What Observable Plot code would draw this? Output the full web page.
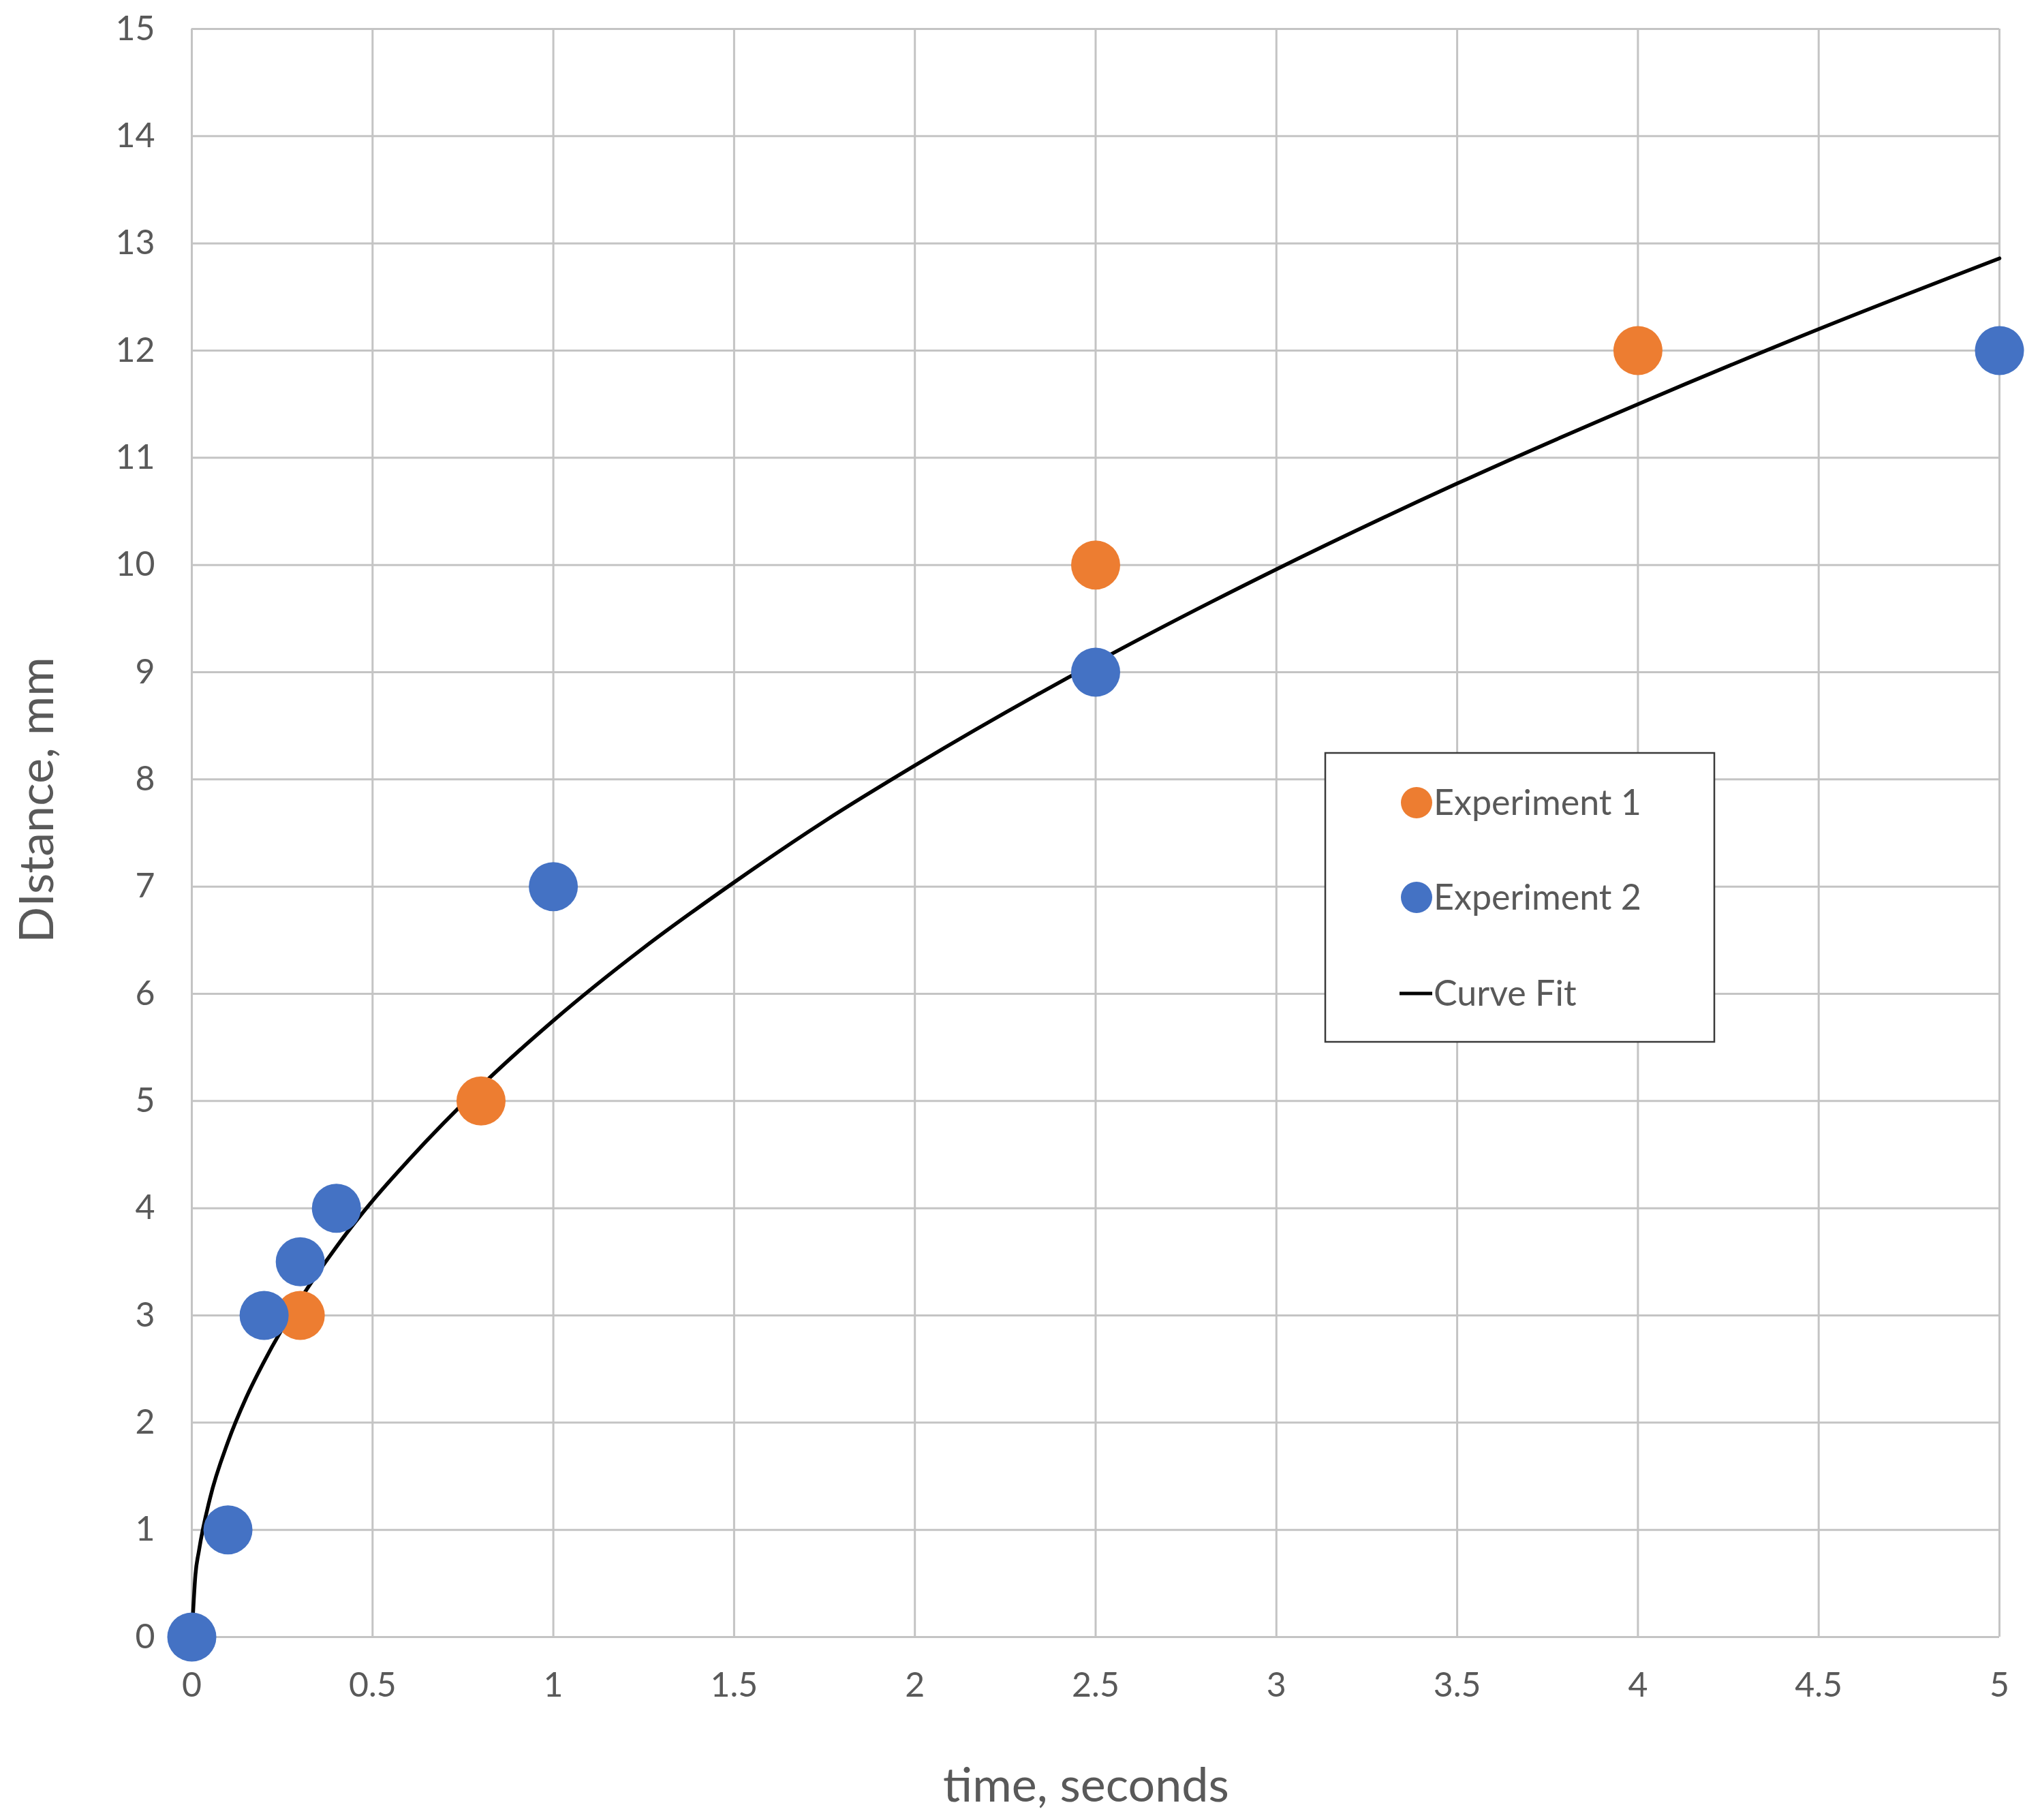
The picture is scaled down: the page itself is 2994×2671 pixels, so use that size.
<!DOCTYPE html>
<html>
<head>
<meta charset="utf-8">
<script src="https://cdn.jsdelivr.net/npm/d3@7"></script>
<script src="https://cdn.jsdelivr.net/npm/@observablehq/plot@0.6"></script>
<style>
  html, body { margin: 0; padding: 0; background: #fff; }
  #chart { width: 2994px; height: 2671px; }
</style>
</head>
<body>
<div id="chart"></div>
<script>
// ---- data ----
const exp1Time = [0.3, 0.8, 2.5, 4];
const exp1Dist = [3, 5, 10, 12];
const exp2Time = [0, 0.1, 0.2, 0.3, 0.4, 1, 2.5, 5];
const exp2Dist = [0, 1, 3, 3.5, 4, 7, 9, 12];
// curve fit
const fitTime = [0, 0.01, 0.02, 0.05, 0.1, 0.15, 0.2, 0.3, 0.4, 0.5, 0.6, 0.8, 1, 1.25, 1.5, 1.75, 2, 2.5, 3, 3.5, 4, 4.5, 5];
const fitDist = [0, 0.58, 0.81, 1.29, 1.82, 2.23, 2.57, 3.15, 3.64, 4.07, 4.45, 5.14, 5.75, 6.43, 7.04, 7.61, 8.13, 9.09, 9.96, 10.76, 11.5, 12.2, 12.86];
const xTicks = [0, 0.5, 1, 1.5, 2, 2.5, 3, 3.5, 4, 4.5, 5];
const yTicks = [0, 1, 2, 3, 4, 5, 6, 7, 8, 9, 10, 11, 12, 13, 14, 15];
const seriesNames = ["Experiment 1", "Experiment 2", "Curve Fit"];
const xTitle = "time, seconds";
const yTitle = "DIstance, mm";

const ORANGE = "#ED7D31", BLUE = "#4472C4", TEXT = "#595959", GRID = "#c4c4c4";
const FONT = "Lato, 'Open Sans', sans-serif";
const fmt = d => d3.format("~g")(d);

const exp1 = exp1Time.map((t, i) => ({t, d: exp1Dist[i]}));
const exp2 = exp2Time.map((t, i) => ({t, d: exp2Dist[i]}));
const fit = fitTime.map((t, i) => ({t, d: fitDist[i]}));

const W = 2994, H = 2671;
const mL = 281, mR = 60, mT = 42, mB = 269;

const plot = Plot.plot({
  width: W,
  height: H,
  marginLeft: mL,
  marginRight: mR,
  marginTop: mT,
  marginBottom: mB,
  style: { fontFamily: FONT, color: TEXT, background: "#fff", overflow: "visible" },
  x: { domain: [0, 5], ticks: xTicks, label: null },
  y: { domain: [0, 15], ticks: yTicks, label: null },
  marks: [
    Plot.gridX(xTicks, { stroke: GRID, strokeOpacity: 1, strokeWidth: 3 }),
    Plot.gridY(yTicks, { stroke: GRID, strokeOpacity: 1, strokeWidth: 3 }),
    Plot.axisX(xTicks, { tickSize: 0, tickPadding: 52, fontSize: 50, fill: TEXT, label: null, tickFormat: fmt }),
    Plot.axisY(yTicks, { tickSize: 0, tickPadding: 54, fontSize: 50, fill: TEXT, label: null, tickFormat: fmt }),
    Plot.line(fit, { x: "t", y: "d", stroke: "#000", strokeWidth: 5.5, curve: "monotone-x" }),
    Plot.dot(exp1, { x: "t", y: "d", r: 36, fill: ORANGE, stroke: "none" }),
    Plot.dot(exp2, { x: "t", y: "d", r: 36, fill: BLUE, stroke: "none" })
  ]
});
document.getElementById("chart").appendChild(plot);

const svg = d3.select(plot);

// ---- axis titles ----
svg.append("text").attr("x", 1594).attr("y", 2619).attr("dy", "0.35em")
  .attr("text-anchor", "middle").attr("font-family", FONT).attr("font-size", 70)
  .attr("fill", TEXT).text(xTitle);
svg.append("text").attr("transform", "translate(53,1174) rotate(-90)").attr("dy", "0.35em")
  .attr("text-anchor", "middle").attr("font-family", FONT).attr("font-size", 70)
  .attr("fill", TEXT).text(yTitle);

// ---- legend box (inside plot area) ----
const lg = svg.append("g").attr("font-family", FONT);
lg.append("rect").attr("x", 1945).attr("y", 1105).attr("width", 571).attr("height", 424)
  .attr("fill", "#fff").attr("stroke", "#3a3a3a").attr("stroke-width", 2.5);
const rowsY = [1178, 1317, 1458];
const colors = [ORANGE, BLUE, "#000"];
seriesNames.forEach((name, i) => {
  if (i < 2) {
    lg.append("circle").attr("cx", 2079).attr("cy", rowsY[i]).attr("r", 23).attr("fill", colors[i]);
  } else {
    lg.append("line").attr("x1", 2054).attr("x2", 2102).attr("y1", rowsY[i]).attr("y2", rowsY[i])
      .attr("stroke", "#000").attr("stroke-width", 5);
  }
  lg.append("text").attr("x", 2104).attr("y", rowsY[i]).attr("dy", "0.35em")
    .attr("text-anchor", "start").attr("font-size", 52).attr("fill", TEXT).text(name);
});
</script>
</body>
</html>
